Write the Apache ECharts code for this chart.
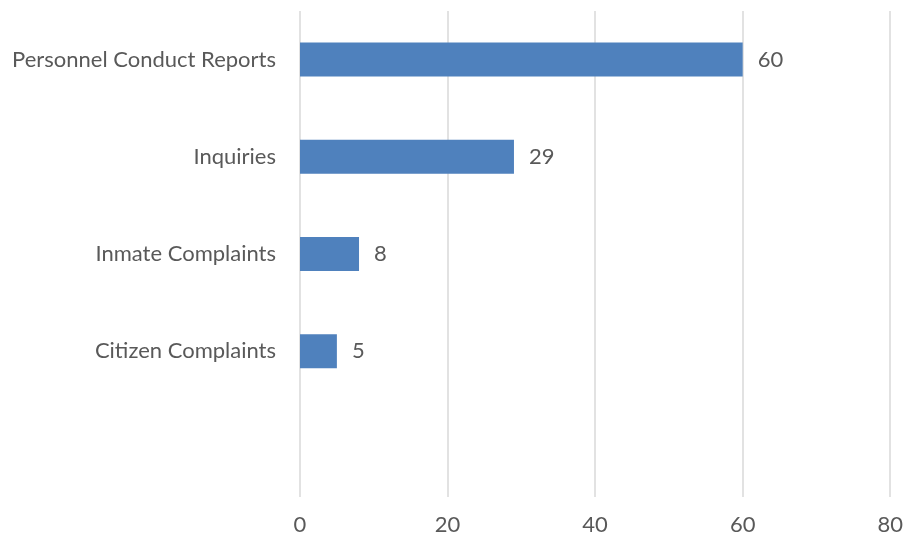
<!DOCTYPE html>
<html>
<head>
<meta charset="utf-8">
<script src="https://cdn.jsdelivr.net/npm/echarts@6/dist/echarts.min.js"></script>
<style>
  html, body { margin: 0; padding: 0; background: #ffffff; }
  #chart { width: 906px; height: 539px; }
</style>
</head>
<body>
<div id="chart"></div>
<script>
// Report categories, top to bottom; the trailing blank slot keeps the empty row at the bottom
const categories = ['Personnel Conduct Reports', 'Inquiries', 'Inmate Complaints', 'Citizen Complaints', ''];
const counts = [60, 29, 8, 5, null];
const axisMin = 0;
const axisMax = 80;
const axisStep = 20;

const textColor = '#595959';
const fontFamily = 'Lato, "Open Sans", sans-serif';

const chart = echarts.init(document.getElementById('chart'));
chart.setOption({
  animation: false,
  grid: { left: 300, right: 14, top: 11, bottom: 42, containLabel: false },
  xAxis: {
    type: 'value',
    min: axisMin,
    max: axisMax,
    interval: axisStep,
    axisLine: { show: false },
    axisTick: { show: false },
    splitLine: { show: true, lineStyle: { color: '#d9d9d9', width: 1.5 } },
    axisLabel: { color: textColor, fontFamily: fontFamily, fontSize: 22, margin: 17 }
  },
  yAxis: {
    type: 'category',
    data: categories,
    inverse: true,
    axisLine: { show: false },
    axisTick: { show: false },
    axisLabel: { color: textColor, fontFamily: fontFamily, fontSize: 22, margin: 24 }
  },
  series: [{
    type: 'bar',
    data: counts,
    barWidth: 34,
    itemStyle: { color: '#4f81bd' },
    label: {
      show: true,
      position: 'right',
      distance: 15,
      color: textColor,
      fontFamily: fontFamily,
      fontSize: 22
    }
  }]
});
</script>
</body>
</html>
